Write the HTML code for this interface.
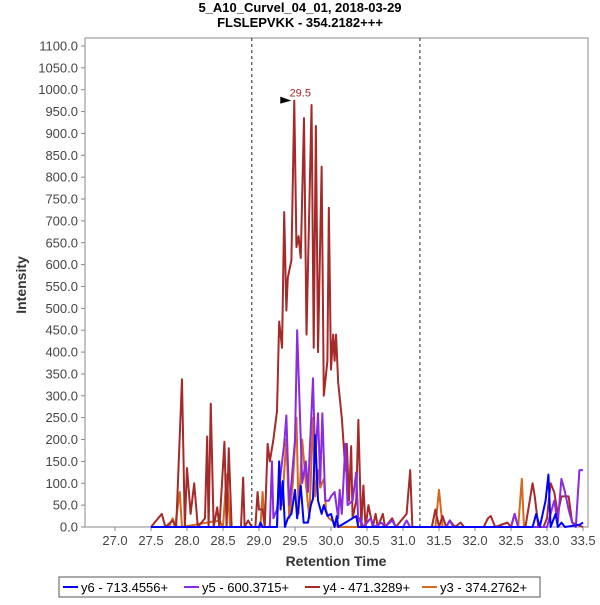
<!DOCTYPE html>
<html><head><meta charset="utf-8"><style>
body{margin:0;background:#fff;font-family:"Liberation Sans",sans-serif}
</style></head><body>
<svg id="c" width="600" height="600" xmlns="http://www.w3.org/2000/svg" font-family="Liberation Sans, sans-serif">
<text x="300" y="12" text-anchor="middle" font-size="13" font-weight="bold">5_A10_Curvel_04_01, 2018-03-29</text>
<text x="300" y="27" text-anchor="middle" font-size="13" font-weight="bold">FLSLEPVKK - 354.2182+++</text>
<text transform="translate(26,285) rotate(-90)" text-anchor="middle" font-size="14" font-weight="bold" fill="#333">Intensity</text>
<text x="336" y="566" text-anchor="middle" font-size="14" font-weight="bold" fill="#333">Retention Time</text>
<g id="axes"></g>
<g id="series"></g>
<g>
<rect x="59" y="577" width="481" height="20" fill="#fff" stroke="#555"/>
<line x1="63" y1="587" x2="78" y2="587" stroke="#0000ff" stroke-width="2"/><text x="81" y="592" font-size="13">y6 - 713.4556+</text>
<line x1="184" y1="587" x2="199" y2="587" stroke="#8a2be2" stroke-width="2"/><text x="202" y="592" font-size="13">y5 - 600.3715+</text>
<line x1="305" y1="587" x2="320" y2="587" stroke="#a52a2a" stroke-width="2"/><text x="323" y="592" font-size="13">y4 - 471.3289+</text>
<line x1="422" y1="587" x2="437" y2="587" stroke="#d2691e" stroke-width="2"/><text x="440" y="592" font-size="13">y3 - 374.2762+</text>
</g>
</svg>
<script>
const xTicks=[27.0,27.5,28.0,28.5,29.0,29.5,30.0,30.5,31.0,31.5,32.0,32.5,33.0,33.5];
const yTicks=[0,50,100,150,200,250,300,350,400,450,500,550,600,650,700,750,800,850,900,950,1000,1050,1100];
const markers=[28.9,31.235];
const y4x=[27.5,27.65,27.7,27.8,27.85,27.93,27.97,28.0,28.05,28.1,28.15,28.25,28.28,28.3,28.33,28.37,28.42,28.45,28.52,28.55,28.58,28.62,28.75,28.78,28.8,28.85,28.9,28.95,28.98,29.0,29.05,29.08,29.12,29.15,29.2,29.25,29.28,29.32,29.35,29.38,29.4,29.45,29.49,29.52,29.55,29.58,29.625,29.66,29.73,29.76,29.79,29.82,29.87,29.9,29.95,29.97,30.0,30.03,30.05,30.07,30.1,30.15,30.2,30.22,30.25,30.28,30.3,30.35,30.38,30.42,30.45,30.48,30.52,30.58,30.62,30.65,30.72,30.75,30.85,30.9,31.0,31.05,31.1,31.13,31.4,31.45,31.5,31.55,31.6,31.65,31.72,31.8,31.85,32.12,32.18,32.22,32.28,32.45,32.5,32.55,32.6,32.7,32.8,32.83,32.88,32.95,33.0,33.05,33.1,33.15,33.2,33.25,33.3,33.35,33.5];
const y4v=[0,30,0,15,0,338,0,135,30,100,0,20,207,0,282,0,45,0,195,0,180,0,0,113,0,15,0,0,80,40,40,0,190,150,200,265,470,410,720,495,570,610,975,640,665,615,935,440,965,410,917,400,824,300,380,730,360,440,380,440,330,250,130,190,60,185,20,60,245,0,95,0,50,0,30,0,30,0,20,0,20,30,130,0,0,40,0,25,0,15,0,10,0,0,20,25,0,10,0,30,0,0,100,70,0,0,20,100,80,30,70,70,70,10,0];
const y5x=[27.5,29.15,29.18,29.2,29.25,29.3,29.35,29.38,29.42,29.45,29.5,29.53,29.57,29.6,29.65,29.68,29.72,29.75,29.78,29.82,29.85,29.88,29.92,29.97,30.0,30.05,30.1,30.12,30.15,30.2,30.23,30.3,30.35,30.38,30.4,30.45,30.55,30.6,30.7,30.75,30.85,30.9,31.0,31.05,31.1,31.6,31.65,31.7,32.5,32.55,32.6,33.0,33.1,33.15,33.2,33.25,33.3,33.35,33.4,33.45,33.5];
const y5v=[0,0,150,20,40,120,190,255,50,100,200,450,250,100,150,80,230,340,150,260,100,260,60,60,70,80,20,85,30,190,50,60,125,10,20,0,20,0,10,0,15,0,0,15,0,0,15,0,0,30,0,0,60,10,110,80,40,10,0,130,130];
const y6x=[27.5,29.0,29.02,29.05,29.25,29.28,29.3,29.33,29.36,29.4,29.45,29.5,29.53,29.58,29.62,29.68,29.72,29.75,29.78,29.82,29.87,29.9,29.95,30.0,30.05,30.08,30.1,30.35,30.38,32.8,32.85,32.9,32.98,33.02,33.05,33.12,33.15,33.2,33.25,33.45,33.5];
const y6v=[0,0,10,0,0,150,40,105,0,20,30,85,20,95,10,10,50,65,210,60,30,50,25,30,0,25,0,25,0,0,30,0,60,120,0,30,0,10,0,5,10];
const y3x=[27.75,27.8,27.83,27.85,27.9,27.93,28.45,28.5,28.55,28.6,29.02,29.05,29.08,29.25,29.28,29.32,29.38,29.42,29.47,29.52,29.55,29.6,29.65,29.7,29.75,29.78,29.82,29.85,29.9,29.93,29.97,30.05,30.1,31.45,31.5,31.55,32.6,32.65,32.68];
const y3v=[0,20,0,20,80,0,15,0,120,0,0,80,0,0,130,50,200,20,100,250,30,200,100,20,250,70,130,90,110,40,20,10,0,0,85,0,0,110,0];
const X=v=>115+(v-27)*72, Y=v=>527-v*0.4373;
const ns="http://www.w3.org/2000/svg";
function mk(p,t,a){const e=document.createElementNS(ns,t);for(const k in a)e.setAttribute(k,a[k]);p.appendChild(e);return e;}
const ax=document.getElementById('axes');
const bg=mk(ax,'rect',{x:85,y:38,width:503,height:489,fill:'#fff',stroke:'#888'});


yTicks.forEach(t=>{mk(ax,'line',{x1:81,x2:85,y1:Y(t),y2:Y(t),stroke:'#888'});
const tx=mk(ax,'text',{x:78,y:Y(t)+4.5,'text-anchor':'end','font-size':13,fill:'#444'});tx.textContent=t.toFixed(1);

});
xTicks.forEach(t=>{mk(ax,'line',{x1:X(t),x2:X(t),y1:527,y2:531,stroke:'#888'});
const tx=mk(ax,'text',{x:X(t),y:545,'text-anchor':'middle','font-size':13,fill:'#444'});tx.textContent=t.toFixed(1);

});
markers.forEach(m=>{const l=mk(ax,'line',{x1:X(m),x2:X(m),y1:38,y2:527,stroke:'#222','stroke-dasharray':'3,3'});

});
const sg=document.getElementById('series');
[[y3x,y3v,'#d2691e','series-y3'],[y4x,y4v,'#a52a2a','series-y4'],[y5x,y5v,'#8a2be2','series-y5'],[y6x,y6v,'#0000ff','series-y6']].forEach(([xs,vs,c,n])=>{
const pl=mk(sg,'polyline',{points:xs.map((x,i)=>X(x)+','+Y(vs[i])).join(' '),fill:'none',stroke:c,'stroke-width':2,'stroke-linejoin':'round'});

});
const ar=mk(sg,'polygon',{points:`${X(29.49)-14},${Y(975)-4} ${X(29.49)-3},${Y(975)} ${X(29.49)-14},${Y(975)+3}`,fill:'#000'});


const lab=mk(sg,'text',{x:X(29.49)+6,y:Y(975)-4,'font-size':11,fill:'#a52a2a','text-anchor':'middle'});lab.textContent='29.5';


</script>
</body></html>
